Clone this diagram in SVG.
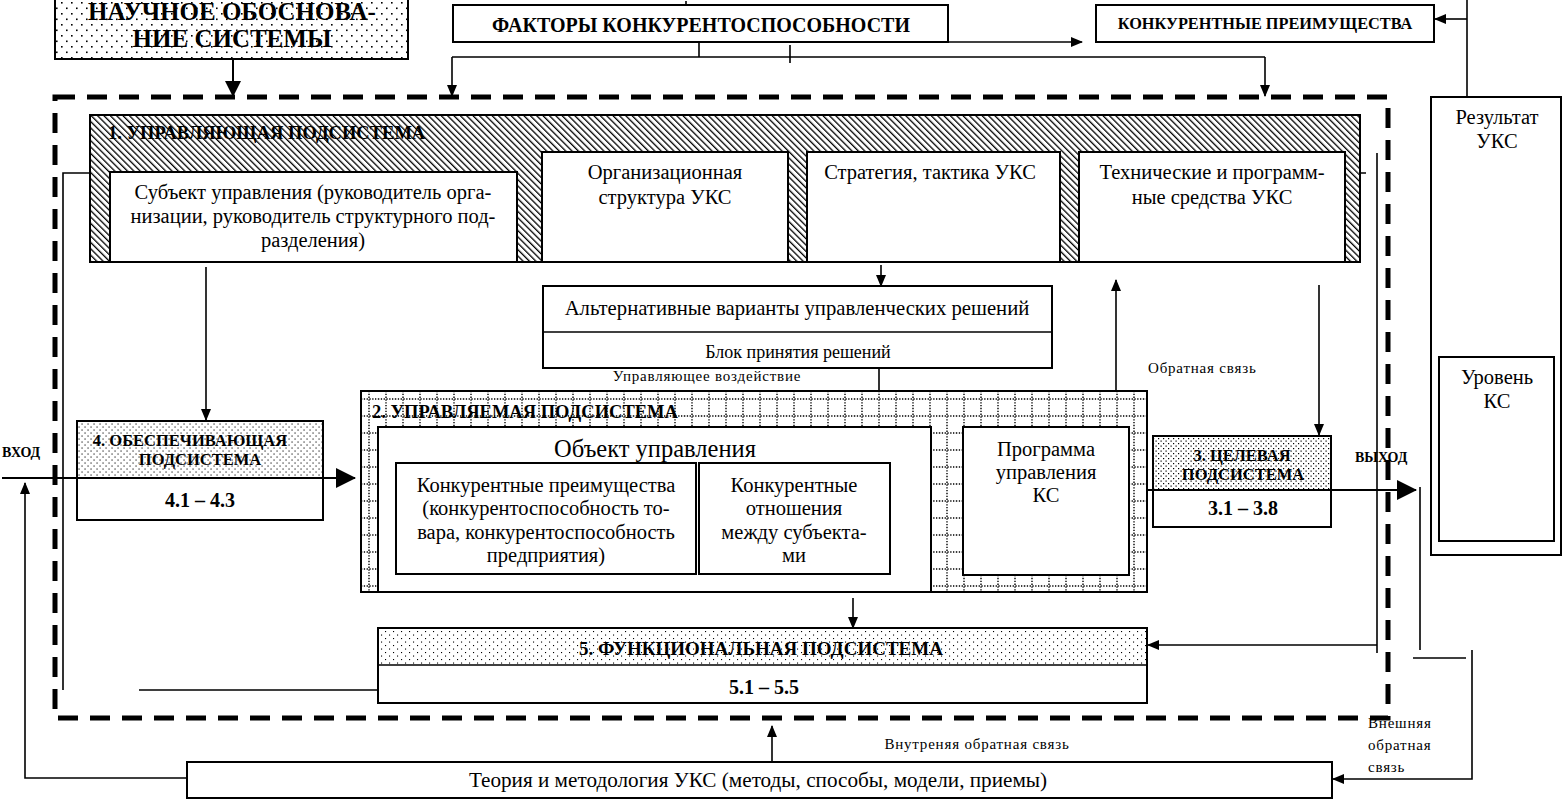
<svg xmlns="http://www.w3.org/2000/svg" width="1567" height="799" viewBox="0 0 1567 799">
<defs>
<style>
.b{fill:#fff;stroke:#000;stroke-width:2}
.o{fill:none;stroke:#000;stroke-width:2}
.ln{fill:none;stroke:#000;stroke-width:1.6}
.t{font-family:"Liberation Serif","Times New Roman",serif;fill:#000}
.c{text-anchor:middle}
.bd{font-weight:bold}
.r{font-size:20.5px}
.s{font-size:15px;letter-spacing:0.8px}
</style>
<pattern id="dotsA" width="10" height="11" patternUnits="userSpaceOnUse">
<rect width="10" height="11" fill="#fff"/>
<rect x="1" y="2" width="1.6" height="1.6"/>
<rect x="6" y="7.5" width="1.6" height="1.6"/>
</pattern>
<pattern id="dotsB" width="6" height="6" patternUnits="userSpaceOnUse">
<rect width="6" height="6" fill="#fff"/>
<rect x="0.5" y="0.5" width="1.1" height="1.1"/>
<rect x="3.5" y="3.5" width="1.1" height="1.1"/>
</pattern>
<pattern id="dotsD" width="5" height="5" patternUnits="userSpaceOnUse">
<rect width="5" height="5" fill="#fff"/>
<rect x="0.5" y="0.5" width="1.2" height="1.2"/>
<rect x="3" y="3" width="1.2" height="1.2"/>
</pattern>
<pattern id="dotsC" width="8" height="7" patternUnits="userSpaceOnUse">
<rect width="8" height="7" fill="#fff"/>
<rect x="1" y="1" width="1.1" height="1.1"/>
<rect x="5" y="4.5" width="1.1" height="1.1"/>
</pattern>
<pattern id="hatch" width="4.5" height="4.5" patternUnits="userSpaceOnUse" patternTransform="rotate(-45)">
<rect width="4.5" height="4.5" fill="#fff"/>
<rect width="1.3" height="4.5"/>
</pattern>
<pattern id="grid" x="361" y="391" width="17" height="17" patternUnits="userSpaceOnUse">
<rect width="17" height="17" fill="#fff"/>
<path d="M0 8H17 M8 0V17" stroke="#000" stroke-width="1.4" stroke-dasharray="1.3 1.5"/>
</pattern>
<marker id="a" markerUnits="userSpaceOnUse" markerWidth="12" markerHeight="10" refX="11" refY="5" orient="auto">
<path d="M0 0L12 5L0 10z" fill="#000"/>
</marker>
<marker id="am" markerUnits="userSpaceOnUse" markerWidth="16" markerHeight="16" refX="15" refY="8" orient="auto">
<path d="M0 0L16 8L0 16z" fill="#000"/>
</marker>
<marker id="ab" markerUnits="userSpaceOnUse" markerWidth="20" markerHeight="20" refX="19" refY="10" orient="auto">
<path d="M0 0L20 10L0 20z" fill="#000"/>
</marker>
</defs>
<rect width="1567" height="799" fill="#fff"/>

<g id="frame">
<path d="M55 97H1388V718H55Z" fill="none" stroke="#000" stroke-width="5" stroke-dasharray="20 12"/>
</g>

<g id="n-science">
<rect x="55" y="-2" width="353" height="61" fill="url(#dotsA)" stroke="#000" stroke-width="2"/>
<text x="232" y="20" class="t c bd" font-size="25">НАУЧНОЕ ОБОСНОВА-</text>
<text x="232" y="47" class="t c bd" font-size="25">НИЕ СИСТЕМЫ</text>
</g>

<g id="n-factors">
<rect x="453" y="5" width="495" height="37" class="b"/>
<text x="701" y="32" class="t c bd" font-size="20">ФАКТОРЫ КОНКУРЕНТОСПОСОБНОСТИ</text>
</g>

<g id="n-advantages">
<rect x="1096" y="5" width="338" height="37" class="b"/>
<text x="1265" y="29" class="t c bd" font-size="16.3">КОНКУРЕНТНЫЕ ПРЕИМУЩЕСТВА</text>
</g>

<g id="n-result">
<rect x="1431" y="97" width="130" height="458" class="b"/>
<text x="1497" y="124" class="t c r">Результат</text>
<text x="1497" y="148" class="t c r">УКС</text>
</g>

<g id="n-level">
<rect x="1439" y="357" width="115" height="184" class="b"/>
<text x="1497" y="384" class="t c r">Уровень</text>
<text x="1497" y="408" class="t c r">КС</text>
</g>

<g id="n-control">
<rect x="90" y="115" width="1270" height="147" fill="url(#hatch)" stroke="#000" stroke-width="2"/>
<text x="108" y="139" class="t bd" font-size="18.5">1. УПРАВЛЯЮЩАЯ ПОДСИСТЕМА</text>
</g>

<g id="n-subject">
<rect x="110" y="172" width="407" height="90" class="b"/>
<text x="313" y="199" class="t c r">Субъект управления (руководитель орга-</text>
<text x="313" y="223" class="t c r">низации, руководитель структурного под-</text>
<text x="313" y="247" class="t c r">разделения)</text>
</g>

<g id="n-org">
<rect x="542" y="152" width="246" height="110" class="b"/>
<text x="665" y="179" class="t c r">Организационная</text>
<text x="665" y="204" class="t c r">структура УКС</text>
</g>

<g id="n-strategy">
<rect x="807" y="152" width="253" height="110" class="b"/>
<text x="930" y="179" class="t c r">Стратегия, тактика УКС</text>
</g>

<g id="n-tech">
<rect x="1079" y="152" width="266" height="110" class="b"/>
<text x="1212" y="179" class="t c r">Технические и программ-</text>
<text x="1212" y="204" class="t c r">ные средства УКС</text>
</g>

<g id="n-alt">
<rect x="543" y="286" width="509" height="82" class="b"/>
<line x1="543" y1="332" x2="1052" y2="332" stroke="#000" stroke-width="1.6"/>
<text x="797" y="315" class="t c" font-size="20.7">Альтернативные варианты управленческих решений</text>
<text x="798" y="358" class="t c" font-size="18">Блок принятия решений</text>
</g>

<g id="n-managed">
<rect x="361" y="391" width="786" height="201" fill="url(#grid)" stroke="#000" stroke-width="2"/>
<text x="372" y="418" class="t bd" font-size="18.5">2. УПРАВЛЯЕМАЯ ПОДСИСТЕМА</text>
</g>

<g id="n-object">
<rect x="378" y="427" width="553" height="165" class="b"/>
<text x="655" y="457" class="t c" font-size="24.5">Объект управления</text>
</g>

<g id="n-adv-inner">
<rect x="396" y="463" width="300" height="111" class="b"/>
<text x="546" y="492" class="t c r">Конкурентные преимущества</text>
<text x="546" y="515" class="t c r">(конкурентоспособность то-</text>
<text x="546" y="539" class="t c r">вара, конкурентоспособность</text>
<text x="546" y="562" class="t c r">предприятия)</text>
</g>

<g id="n-relations">
<rect x="699" y="463" width="191" height="111" class="b"/>
<text x="794" y="492" class="t c r">Конкурентные</text>
<text x="794" y="515" class="t c r">отношения</text>
<text x="794" y="539" class="t c r">между субъекта-</text>
<text x="794" y="562" class="t c r">ми</text>
</g>

<g id="n-program">
<rect x="963" y="427" width="166" height="148" class="b"/>
<text x="1046" y="456" class="t c r">Программа</text>
<text x="1046" y="479" class="t c r">управления</text>
<text x="1046" y="502" class="t c r">КС</text>
</g>

<g id="n-support">
<rect x="77" y="421" width="246" height="99" class="b"/>
<rect x="78" y="422" width="244" height="56" fill="url(#dotsB)"/>
<line x1="77" y1="478" x2="323" y2="478" stroke="#000" stroke-width="1.6"/>
<text x="190" y="446" class="t c bd" font-size="16.5">4. ОБЕСПЕЧИВАЮЩАЯ</text>
<text x="200" y="465" class="t c bd" font-size="16.5">ПОДСИСТЕМА</text>
<text x="200" y="507" class="t c bd" font-size="20">4.1 – 4.3</text>
</g>

<g id="n-target">
<rect x="1153" y="436" width="178" height="91" class="b"/>
<rect x="1154" y="437" width="176" height="53" fill="url(#dotsD)"/>
<line x1="1153" y1="490" x2="1331" y2="490" stroke="#000" stroke-width="1.6"/>
<text x="1242" y="461" class="t c bd" font-size="16.5">3. ЦЕЛЕВАЯ</text>
<text x="1243" y="480" class="t c bd" font-size="16.5">ПОДСИСТЕМА</text>
<text x="1243" y="515" class="t c bd" font-size="20">3.1 – 3.8</text>
</g>

<g id="n-functional">
<rect x="378" y="628" width="769" height="75" class="b"/>
<rect x="379" y="629" width="767" height="36" fill="url(#dotsC)"/>
<line x1="378" y1="665" x2="1147" y2="665" stroke="#000" stroke-width="1.6"/>
<text x="761" y="655" class="t c bd" font-size="19">5. ФУНКЦИОНАЛЬНАЯ ПОДСИСТЕМА</text>
<text x="764" y="694" class="t c bd" font-size="20">5.1 – 5.5</text>
</g>

<g id="n-theory">
<rect x="187" y="762" width="1145" height="36" class="b"/>
<text x="758" y="787" class="t c" font-size="21.2">Теория и методология УКС (методы, способы, модели, приемы)</text>
</g>

<g id="connectors">
<path d="M233 59V96" class="o" stroke-width="4" marker-end="url(#am)"/>
<path d="M699 42V57M452 57H1265M790 45V63M686 1V6" class="ln"/>
<path d="M452 57V96" class="ln" marker-end="url(#a)"/>
<path d="M1265 57V96" class="ln" marker-end="url(#a)"/>
<path d="M948 42H1082" class="ln" marker-end="url(#a)"/>
<path d="M1467 0V97" class="ln"/>
<path d="M1467 19H1435" class="ln" marker-end="url(#a)"/>
<path d="M206 267V420" class="ln" marker-end="url(#a)"/>
<path d="M881 265V286" class="ln" marker-end="url(#a)"/>
<path d="M879 368V391" class="ln"/>
<path d="M1116 390V280" class="ln" marker-end="url(#a)"/>
<path d="M1319 285V435" class="ln" marker-end="url(#a)"/>
<path d="M1377 153V653" class="ln"/>
<path d="M1377 645H1148" class="ln" marker-end="url(#a)"/>
<path d="M90 173H63V690M139 690H378M1360 173H1366" class="ln"/>
<path d="M187 778H25V483" class="ln" marker-end="url(#a)"/>
<path d="M2 478H355" class="o" stroke-width="6" marker-end="url(#ab)"/>
<path d="M1147 490H1416" class="o" stroke-width="6" marker-end="url(#ab)"/>
<path d="M1420 487V650M1413 658H1466" class="ln"/>
<path d="M1472 650V779H1333" class="ln" marker-end="url(#a)"/>
<path d="M853 598V628" class="ln" marker-end="url(#a)"/>
<path d="M772 762V726" class="ln" marker-end="url(#a)"/>
</g>

<g id="labels">
<text x="707" y="381" class="t c s">Управляющее воздействие</text>
<text x="1148" y="373" class="t s">Обратная связь</text>
<text x="977" y="749" class="t c s">Внутреняя обратная связь</text>
<text x="1368" y="728" class="t s">Внешняя</text>
<text x="1368" y="750" class="t s">обратная</text>
<text x="1368" y="772" class="t s">связь</text>
<text x="2" y="457" class="t bd" font-size="14">ВХОД</text>
<text x="1355" y="462" class="t bd" font-size="14">ВЫХОД</text>
</g>
</svg>
